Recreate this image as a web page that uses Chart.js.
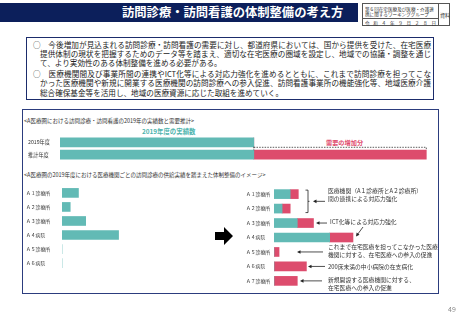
<!DOCTYPE html>
<html><head><meta charset="utf-8">
<script src="https://cdn.jsdelivr.net/npm/chart.js@4/dist/chart.umd.min.js"></script>
<style>
html,body{margin:0;padding:0;background:#fff;}
body{width:462px;height:320px;position:relative;overflow:hidden;font-family:"Noto Sans CJK JP","Noto Sans",sans-serif;color:#222;}
.abs{position:absolute;white-space:nowrap;}
#band{left:0;top:3px;width:358px;height:19px;background:#0c1f5b;}
#title{left:122px;top:3px;height:19px;line-height:19px;font-size:12.3px;font-weight:bold;color:#fff;}
#hbox{left:362px;top:3px;width:86px;height:21px;border:0.8px solid #555;}
.tiny{font-size:9.2px;line-height:11px;color:#333;transform:scale(0.5);transform-origin:0 0;}
#tb{left:26px;top:37px;width:406px;height:61px;border:1.6px solid #1b2c6b;}
.ln{position:absolute;font-size:7.6px;line-height:9px;white-space:nowrap;color:#222;}
.j{text-align:justify;text-align-last:justify;white-space:normal;}
#panel{left:22px;top:109px;width:415px;height:183px;border:1px solid #2c3d7e;}
.cap{font-size:5.5px;color:#333;}
.ann{font-size:5.8px;line-height:8px;color:#333;}
canvas{position:absolute;}
</style></head><body>
<div class="abs" id="band"></div>
<div class="abs" id="title">訪問診療・訪問看護の体制整備の考え方</div>
<div class="abs" id="hbox">
  <div class="abs" style="left:0;top:0;width:75px;height:14px;border-right:0.8px solid #555;border-bottom:0.8px solid #555;"></div>
  <div class="abs" style="left:0;top:14px;width:75px;height:7px;border-right:0.8px solid #555;"></div>
  <div class="abs tiny" style="left:2px;top:1.5px;">第６回在宅医療及び医療・介護連<br>携に関するワーキンググループ</div>
  <div class="abs tiny" style="left:2px;top:15.5px;width:142px;display:flex;justify-content:space-between;"><span>令</span><span>和</span><span>４</span><span>年</span><span>９</span><span>月</span><span>２</span><span>８</span><span>日</span></div>
  <div class="abs tiny" style="left:77px;top:8px;font-size:10px;">資料</div>
</div>

<div class="abs" id="tb"></div>
<div class="ln j" style="left:33px;top:39.5px;width:398px;">○　今後増加が見込まれる訪問診療・訪問看護の需要に対し、都道府県においては、国から提供を受けた、在宅医療</div>
<div class="ln j" style="left:40px;top:48.5px;width:391px;">提供体制の現状を把握するためのデータ等を踏まえ、適切な在宅医療の圏域を設定し、地域での協議・調整を通じ</div>
<div class="ln" style="left:40px;top:58px;">て、より実効性のある体制整備を進める必要がある。</div>
<div class="ln j" style="left:33px;top:69px;width:398px;">○　医療機関間及び事業所間の連携やICT化等による対応力強化を進めるとともに、これまで訪問診療を担ってこな</div>
<div class="ln j" style="left:40px;top:78px;width:391px;">かった医療機関や新規に開業する医療機関の訪問診療への参入促進、訪問看護事業所の機能強化等、地域医療介護</div>
<div class="ln" style="left:40px;top:87.5px;">総合確保基金等を活用し、地域の医療資源に応じた取組を進めていく。</div>

<div class="abs" id="panel"></div>
<div class="abs cap" style="left:24px;top:117px;">&lt;A医療圏における訪問診療・訪問看護の2019年の実績数と需要推計&gt;</div>
<div class="abs" style="left:142px;top:127px;font-size:6.4px;color:#4db3ad;font-weight:bold;">2019年度の実績数</div>
<div class="abs" style="left:326px;top:138px;font-size:6.2px;color:#e04a6c;font-weight:bold;">需要の増加分</div>
<div class="abs cap" style="left:24px;top:170.5px;">&lt;A医療圏の2019年度における医療機関ごとの訪問診療の供給実績を踏まえた体制整備のイメージ&gt;</div>

<canvas id="c1" width="408" height="31" style="left:28px;top:133px;"></canvas>
<canvas id="c2" width="180" height="90" style="left:26px;top:183px;"></canvas>
<canvas id="c3" width="190" height="107" style="left:246px;top:184px;"></canvas>

<svg class="abs" style="left:0;top:0;" width="462" height="320">
  <polygon points="215,232 224,232 224,227 233,236 224,245 224,240 215,240" fill="#000"/>
</svg>

<div class="abs ann" style="left:328px;top:187px;">医療機関（A１診療所とA２診療所）<br>間の連携による対応力強化</div>
<div class="abs ann" style="left:330px;top:218px;">ICT化等による対応力強化</div>
<div class="abs ann" style="left:328px;top:243px;">これまで在宅医療を担ってこなかった医療<br>機関に対する、在宅医療への参入の促進</div>
<div class="abs ann" style="left:328px;top:263px;">200床未満の中小病院の在支病化</div>
<div class="abs ann" style="left:328px;top:275.5px;">新規開設する医療機関に対する、<br>在宅医療への参入の促進</div>
<div class="abs" style="left:448px;top:304px;font-size:7px;color:#888;">49</div>

<script>
const FONT = '"Noto Sans CJK JP","Noto Sans",sans-serif';
const TEAL = '#62bab5';
const PINK = '#dd4c6d';

// top chart
const topCats = ['2019年度', '推計年度'];
const topActual = [100, 100];
const topIncrease = [0, 89];

// bottom-left chart
const leftCats = ['Ａ１診療所', 'Ａ２診療所', 'Ａ３診療所', 'Ａ４病院', 'Ａ５診療所', 'Ａ６病院'];
const leftActual = [16, 8, 23, 55, 0, 0];

// bottom-right chart
const rightCats = ['Ａ１診療所', 'Ａ２診療所', 'Ａ３診療所', 'Ａ４病院', 'Ａ５診療所', 'Ａ６病院', 'Ａ７診療所'];
const rightActual = [16, 8, 23, 55, 0, 0, 0];
const rightAdded = [8, 8, 16, 23, 5, 32, 23];

function yAxis(width, size) {
  return {
    type: 'category', stacked: true,
    grid: { display: false }, border: { display: false },
    ticks: { crossAlign: 'far', padding: 0, color: '#333', font: { size: size, family: FONT } },
    afterFit(s) { s.width = width; }
  };
}
function baseOpts(max, yw, fs) {
  return {
    indexAxis: 'y', responsive: false, animation: false,
    layout: { padding: 0 },
    plugins: { legend: { display: false }, tooltip: { enabled: false } },
    scales: {
      x: { display: false, stacked: true, min: 0, max: max },
      y: yAxis(yw, fs)
    }
  };
}

const dashPlugin = {
  id: 'dash',
  afterDatasetsDraw(chart) {
    const ctx = chart.ctx, x = chart.scales.x, y = chart.scales.y;
    const x0 = x.getPixelForValue(topActual[1]);
    const x1 = x.getPixelForValue(topActual[1] + topIncrease[1]);
    const y0 = y.getPixelForValue(0), y1 = y.getPixelForValue(1);
    const h = 4.5;
    ctx.save();
    ctx.setLineDash([1.5, 1.2]);
    ctx.strokeStyle = '#333'; ctx.lineWidth = 0.8;
    ctx.beginPath();
    ctx.moveTo(x0, y0 + h + 0.5); ctx.lineTo(x1, y0 + h + 0.5); ctx.lineTo(x1, y1 - h);
    ctx.moveTo(x0, y0 + h); ctx.lineTo(x0, y1 - h);
    ctx.stroke();
    ctx.restore();
  }
};

new Chart(document.getElementById('c1'), {
  type: 'bar',
  data: { labels: topCats, datasets: [
    { data: topActual, backgroundColor: TEAL, barThickness: 9 },
    { data: topIncrease, backgroundColor: PINK, barThickness: 9 }
  ]},
  options: baseOpts(194, 32, 5.2),
  plugins: [dashPlugin]
});

new Chart(document.getElementById('c2'), {
  type: 'bar',
  data: { labels: leftCats, datasets: [
    { data: leftActual, backgroundColor: TEAL, barThickness: 9 }
  ]},
  options: baseOpts(140, 36, 4.8)
});

const OX = 246, OY = 184;
function arrow(ctx, xf, yf, xt, yt) {
  const a = Math.atan2(yt - yf, xt - xf), L = 3.5, W = 1.8;
  ctx.beginPath(); ctx.moveTo(xf, yf); ctx.lineTo(xt - Math.cos(a) * L * 0.8, yt - Math.sin(a) * L * 0.8); ctx.stroke();
  ctx.beginPath();
  ctx.moveTo(xt, yt);
  ctx.lineTo(xt - Math.cos(a) * L - Math.sin(a) * W, yt - Math.sin(a) * L + Math.cos(a) * W);
  ctx.lineTo(xt - Math.cos(a) * L + Math.sin(a) * W, yt - Math.sin(a) * L - Math.cos(a) * W);
  ctx.closePath(); ctx.fill();
}
const annPlugin = {
  id: 'ann',
  afterDatasetsDraw(chart) {
    const ctx = chart.ctx, y = chart.scales.y;
    const P = i => y.getPixelForValue(i);
    ctx.save();
    ctx.strokeStyle = '#222'; ctx.fillStyle = '#222'; ctx.lineWidth = 0.8;
    const bx = 308 - OX, t = P(0) - 4, b = P(1) + 4;
    ctx.beginPath(); ctx.moveTo(bx - 2.5, t); ctx.lineTo(bx, t); ctx.lineTo(bx, b); ctx.lineTo(bx - 2.5, b);
    ctx.moveTo(bx, (t + b) / 2); ctx.lineTo(bx + 1.5, (t + b) / 2); ctx.stroke();
    arrow(ctx, 325 - OX, (P(0) + P(1)) / 2, 313 - OX, (P(0) + P(1)) / 2);
    arrow(ctx, 327 - OX, P(2), 316 - OX, P(2));
    arrow(ctx, 363 - OX, 227 - OY, 356 - OX, P(3) - 1);
    arrow(ctx, 323 - OX, P(4), 297 - OX, P(4));
    arrow(ctx, 325 - OX, P(5), 308 - OX, P(5));
    arrow(ctx, 322 - OX, P(6), 300 - OX, P(6));
    ctx.restore();
  }
};

new Chart(document.getElementById('c3'), {
  type: 'bar',
  data: { labels: rightCats, datasets: [
    { data: rightActual, backgroundColor: TEAL, barThickness: 9 },
    { data: rightAdded, backgroundColor: PINK, barThickness: 9 }
  ]},
  options: baseOpts(160, 28, 4.8),
  plugins: [annPlugin]
});
</script>
</body></html>
